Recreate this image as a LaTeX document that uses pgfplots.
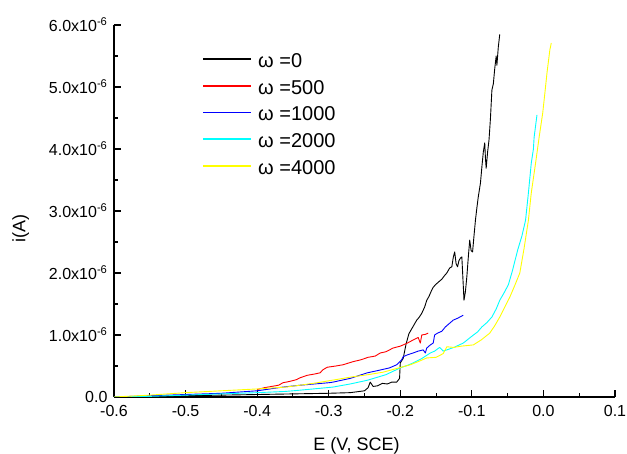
\documentclass[border=0pt]{standalone}
\usepackage{fontspec}
\setmainfont{Liberation Sans}
\usepackage{pgfplots}
\pgfplotsset{compat=1.18}
\definecolor{cBlack}{RGB}{0,0,0}
\definecolor{cRed}{RGB}{255,0,0}
\definecolor{cBlue}{RGB}{0,0,255}
\definecolor{cCyan}{RGB}{0,255,255}
\definecolor{cYellow}{RGB}{255,255,0}
\newcommand{\legline}[1]{\textcolor{#1}{\rule[7.4pt]{48pt}{1.8pt}}\hspace{7pt}}
\begin{document}
\begin{tikzpicture}
\begin{axis}[
  scale only axis, width=501pt, height=372pt,
  xmin=-0.6, xmax=0.1, ymin=0, ymax=6,
  axis x line=bottom, axis y line=left,
  axis line style={-, line width=1.2pt},
  tick align=inside,
  major tick length=7pt, minor tick length=4pt,
  every tick/.style={black, line width=1.1pt},
  xtick={-0.6,-0.5,-0.4,-0.3,-0.2,-0.1,0,0.1},
  xticklabels={-0.6,-0.5,-0.4,-0.3,-0.2,-0.1,0.0,0.1},
  minor x tick num=1,
  ytick={0,1,2,3,4,5,6},
  yticklabels={0.0,1.0x10\textsuperscript{-6},2.0x10\textsuperscript{-6},3.0x10\textsuperscript{-6},4.0x10\textsuperscript{-6},5.0x10\textsuperscript{-6},6.0x10\textsuperscript{-6}},
  minor y tick num=1,
  tick label style={font=\fontsize{16}{18}\selectfont},
  xticklabel style={yshift=-5pt},
  yticklabel style={xshift=-3pt},
  xlabel={E (V, SCE)}, ylabel={i(A)},
  label style={font=\fontsize{18}{21}\selectfont},
  xlabel style={at={(axis description cs:0.484,-0.132)}, anchor=center},
  ylabel style={at={(axis description cs:-0.186,0.452)}, anchor=center},
  legend style={at={(axis description cs:0.1776,0.926)}, anchor=north west, draw=none, fill=none,
    inner sep=0pt,
    font=\fontsize{20}{22}\selectfont, row sep=12.3pt,
    nodes={inner sep=0pt, text height=14.5pt, text depth=0pt},
    /tikz/every even column/.append style={column sep=0pt}},
  legend cell align=left,
  legend image code/.code={},
  every axis plot/.append style={line width=0.9pt, line join=round},
]
\addplot[color=cBlack] coordinates {
(-0.600,0.00)(-0.55,0.01)(-0.50,0.02)(-0.45,0.03)(-0.40,0.04)(-0.35,0.05)(-0.30,0.06)(-0.27,0.07)
(-0.25,0.10)(-0.245,0.15)(-0.242,0.24)(-0.238,0.17)(-0.232,0.18)(-0.225,0.22)(-0.218,0.21)(-0.212,0.24)
(-0.205,0.24)(-0.201,0.30)(-0.200,0.55)(-0.196,0.62)(-0.192,0.85)(-0.188,1.02)(-0.184,1.10)(-0.180,1.18)
(-0.177,1.24)(-0.174,1.28)(-0.170,1.35)(-0.166,1.45)(-0.163,1.56)(-0.160,1.62)(-0.157,1.70)(-0.154,1.77)
(-0.150,1.82)(-0.146,1.86)(-0.142,1.90)(-0.138,1.96)(-0.135,2.00)(-0.131,2.08)(-0.128,2.10)(-0.126,2.25)
(-0.124,2.34)(-0.122,2.15)(-0.120,2.10)(-0.118,2.20)(-0.116,2.24)(-0.114,2.26)(-0.112,1.80)(-0.111,1.56)
(-0.109,1.70)(-0.107,1.94)(-0.105,2.25)(-0.103,2.53)(-0.101,2.36)(-0.099,2.34)(-0.097,2.60)(-0.095,2.85)
(-0.093,3.05)(-0.091,3.23)(-0.088,3.45)(-0.086,3.71)(-0.084,3.95)(-0.082,4.10)(-0.081,3.85)(-0.080,3.69)
(-0.078,3.95)(-0.076,4.15)(-0.074,4.50)(-0.072,4.95)(-0.070,5.05)(-0.068,5.30)(-0.066,5.50)(-0.065,5.35)
(-0.063,5.65)(-0.061,5.85)
};
\addlegendentry{\legline{cBlack}ω =0}
\addplot[color=cRed] coordinates {
(-0.400,0.12)(-0.39,0.15)(-0.38,0.17)(-0.37,0.19)(-0.364,0.23)(-0.355,0.25)(-0.345,0.28)(-0.340,0.31)
(-0.330,0.35)(-0.320,0.37)(-0.312,0.39)(-0.308,0.44)(-0.302,0.48)(-0.29,0.50)(-0.28,0.52)(-0.266,0.57)
(-0.255,0.60)(-0.245,0.64)(-0.235,0.66)(-0.228,0.71)(-0.220,0.73)(-0.210,0.79)(-0.200,0.82)(-0.190,0.87)
(-0.182,0.92)(-0.175,0.96)(-0.172,0.87)(-0.170,1.00)(-0.165,1.01)(-0.161,1.03)
};
\addlegendentry{\legline{cRed}ω =500}
\addplot[color=cBlue] coordinates {
(-0.60,0.00)(-0.55,0.02)(-0.50,0.04)(-0.45,0.06)(-0.40,0.10)(-0.364,0.16)(-0.34,0.19)(-0.30,0.23)
(-0.294,0.24)(-0.27,0.30)(-0.246,0.39)(-0.23,0.43)(-0.215,0.47)(-0.205,0.52)(-0.198,0.60)(-0.196,0.65)
(-0.190,0.68)(-0.182,0.71)(-0.175,0.74)(-0.168,0.76)(-0.165,0.71)(-0.163,0.79)(-0.158,0.84)(-0.154,0.87)
(-0.152,1.00)(-0.148,1.03)(-0.142,1.06)(-0.137,1.13)(-0.132,1.18)(-0.126,1.24)(-0.120,1.27)(-0.115,1.30)
(-0.112,1.32)
};
\addlegendentry{\legline{cBlue}ω =1000}
\addplot[color=cCyan] coordinates {
(-0.60,0.00)(-0.55,0.01)(-0.50,0.03)(-0.45,0.05)(-0.40,0.07)(-0.36,0.09)(-0.34,0.11)(-0.294,0.16)
(-0.27,0.21)(-0.246,0.27)(-0.22,0.36)(-0.200,0.47)(-0.190,0.51)(-0.182,0.55)(-0.170,0.62)(-0.158,0.71)
(-0.152,0.74)(-0.145,0.80)(-0.140,0.74)(-0.135,0.76)(-0.125,0.80)(-0.112,0.87)(-0.100,0.98)(-0.092,1.05)
(-0.086,1.13)(-0.079,1.20)(-0.072,1.29)(-0.066,1.42)(-0.061,1.56)(-0.055,1.68)(-0.049,1.81)(-0.043,2.05)
(-0.036,2.37)(-0.030,2.60)(-0.025,2.85)(-0.021,3.29)(-0.017,3.77)(-0.014,4.00)(-0.013,4.19)(-0.009,4.55)
};
\addlegendentry{\legline{cCyan}ω =2000}
\addplot[color=cYellow] coordinates {
(-0.60,0.00)(-0.55,0.03)(-0.50,0.07)(-0.45,0.10)(-0.40,0.13)(-0.36,0.16)(-0.34,0.19)(-0.316,0.23)
(-0.29,0.28)(-0.27,0.32)(-0.245,0.36)(-0.224,0.40)(-0.205,0.46)(-0.186,0.52)(-0.175,0.57)(-0.163,0.63)
(-0.150,0.64)(-0.140,0.70)(-0.135,0.81)(-0.125,0.80)(-0.115,0.82)(-0.098,0.84)(-0.087,0.92)(-0.075,1.03)
(-0.068,1.15)(-0.061,1.29)(-0.054,1.45)(-0.047,1.61)(-0.040,1.80)(-0.033,2.00)(-0.027,2.40)(-0.021,2.85)
(-0.017,3.29)(-0.011,3.77)(-0.006,4.19)(-0.001,4.58)(0.002,4.90)(0.005,5.23)(0.009,5.60)(0.011,5.71)
};
\addlegendentry{\legline{cYellow}ω =4000}
\end{axis}
\pgfresetboundingbox
\path (-114pt,-57pt) rectangle (513pt,397pt);
\end{tikzpicture}
\end{document}
